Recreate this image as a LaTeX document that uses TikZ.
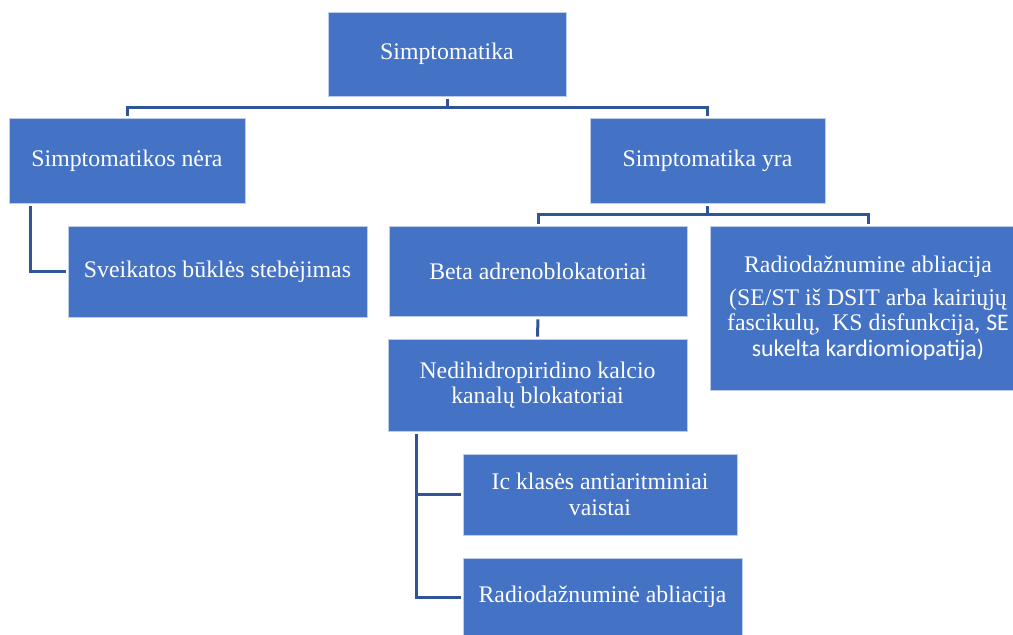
\documentclass[tikz,border=0pt]{standalone}
\usepackage{fontspec}
\setmainfont{Liberation Serif}
\setsansfont{Carlito}
\definecolor{boxblue}{HTML}{4472C4}
\definecolor{connblue}{HTML}{2F5597}
\tikzset{
  box/.style={fill=boxblue, draw=white!65!boxblue, line width=0.8pt, text=white,
    align=center, inner sep=0pt, font=\fontsize{23.8}{25.5}\selectfont},
  conn/.style={draw=connblue, line width=3pt, shorten <=3pt, shorten >=2pt}
}
\begin{document}
\begin{tikzpicture}[x=1pt,y=-1pt]
\useasboundingbox (0,0) rectangle (1013,635);
\clip (0,0) rectangle (1013,635);
\node[box, minimum width=238pt, minimum height=84pt] (root) at (447,54) {Simptomatika};
\node[box, minimum width=236pt, minimum height=85pt] (no) at (127,160.5) {Simptomatikos nėra};
\node[box, minimum width=235pt, minimum height=85pt] (yes) at (707.5,160.5) {Simptomatika yra};
\node[box, minimum width=299pt, minimum height=91pt] (svk) at (217.5,271.5) {Sveikatos būklės stebėjimas};
\node[box, minimum width=298pt, minimum height=90pt] (beta) at (538,271) {Beta adrenoblokatoriai};
\node[box, minimum width=316pt, minimum height=164pt] (rab) at (868,308) {Radiodažnumine abliacija\\[7.5pt](SE/ST iš DSIT arba kairiųjų\\fascikulų,\ \ KS disfunkcija, {\sffamily SE}\\{\sffamily sukelta kardiomiopatija)}};
\node[box, minimum width=299pt, minimum height=92pt] (ned) at (537.5,385) {Nedihidropiridino kalcio\\kanalų blokatoriai};
\node[box, minimum width=274pt, minimum height=81pt] (ic) at (600,494.5) {Ic klasės antiaritminiai\\vaistai};
\node[box, minimum width=279pt, minimum height=78pt] (rd) at (602.5,597) {Radiodažnuminė abliacija};
\draw[conn] (root.south) -- ++(0,11) -| (no.north);
\draw[conn] (root.south) -- ++(0,11) -| (yes.north);
\draw[conn] ([xshift=22pt]no.south west) |- (svk.west);
\draw[conn] (yes.south) -- ++(0,11) -| (beta.north);
\draw[conn] (yes.south) -- ++(0,11) -| (rab.north);
\draw[conn] (beta.south) -- (ned.north);
\draw[conn] ([xshift=29pt]ned.south west) |- (ic.west);
\draw[conn] ([xshift=29pt]ned.south west) |- (rd.west);
\end{tikzpicture}
\end{document}
